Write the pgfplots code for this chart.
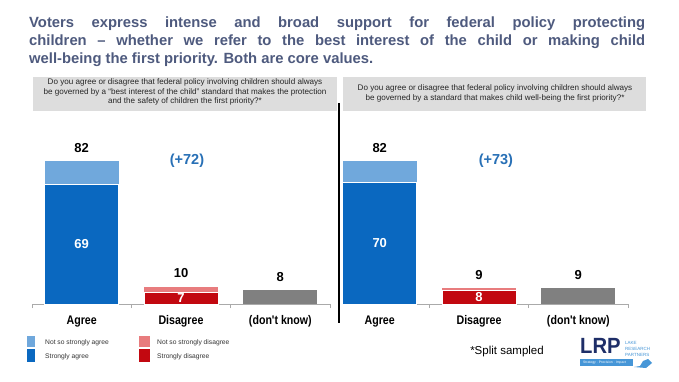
\documentclass[border=0pt]{standalone}
\usepackage{pgfplots}
\pgfplotsset{compat=1.18}
\usepackage{fontspec}
\setmainfont{Liberation Sans}
\newfontfamily\condfont{Liberation Sans}[FakeStretch=0.85]
\definecolor{titlecol}{RGB}{78,90,126}
\definecolor{boxgray}{RGB}{221,221,221}
\definecolor{lblue}{RGB}{112,168,220}
\definecolor{dblue}{RGB}{10,104,192}
\definecolor{lred}{RGB}{232,124,126}
\definecolor{dred}{RGB}{194,8,16}
\definecolor{dkgray}{RGB}{128,128,128}
\definecolor{plusblue}{RGB}{40,112,182}
\definecolor{axgray}{RGB}{170,170,170}
\definecolor{navy}{RGB}{30,46,104}
\definecolor{logoblue}{RGB}{70,150,215}
\pgfplotsset{
  panel/.style={
    anchor=south west, scale only axis, height=174pt,
    ymin=0, ymax=100, clip=false,
    axis x line*=bottom, hide y axis,
    x axis line style={-, draw=axgray, line width=0.6pt},
    xticklabels={}, tick align=outside, major tick length=4pt,
    tick style={draw=axgray, line width=0.6pt},
  },
  bbar/.style={ybar, bar width=74pt, bar shift=0pt, draw=none},
}
\newcommand{\tot}[1]{\bfseries\fontsize{13}{13}\selectfont #1}
\begin{document}
\begin{tikzpicture}[x=1pt,y=1pt]
\useasboundingbox (0,0) rectangle (679,381);
\fill[white] (0,0) rectangle (679,381);
% title
\begin{scope}[every node/.style={anchor=base west, inner sep=0, text=titlecol, font=\bfseries\fontsize{14.8}{18}\selectfont}]
\node at (29,353.7) {\makebox[616pt][s]{Voters express intense and broad support for federal policy protecting}};
\node at (29,335.7) {\makebox[616pt][s]{children -- whether we refer to the best interest of the child or making child}};
\node at (29,317.7) {well-being the first priority. Both are core values.};
\end{scope}
% question boxes
\fill[boxgray] (33,270) rectangle (337,304);
\fill[boxgray] (343,270) rectangle (646,304);
\begin{scope}[every node/.style={anchor=base, inner sep=0, text=black!85, font=\fontsize{8.1}{8.1}\selectfont}]
\node at (185,296.5) {Do you agree or disagree that federal policy involving children should always};
\node at (185,287) {be governed by a “best interest of the child” standard that makes the protection};
\node at (185,277.5) {and the safety of children the first priority?*};
\node at (495,290.5) {Do you agree or disagree that federal policy involving children should always};
\node at (495,281) {be governed by a standard that makes child well-being the first priority?*};
\end{scope}
% divider
\draw[line width=1.2pt] (339,278) -- (339,58);
% left panel
\begin{axis}[panel, at={(32pt,77pt)}, width=298pt, xmin=-0.5, xmax=2.5, xtick={-0.5,0.5,1.5,2.5}]
\addplot[bbar, fill=lblue] coordinates {(0,82)};
\addplot[bbar, fill=dblue, draw=white, line width=0.6pt] coordinates {(0,69)};
\addplot[bbar, fill=lred] coordinates {(1,10)};
\addplot[bbar, fill=dred, draw=white, line width=0.6pt] coordinates {(1,7)};
\addplot[bbar, fill=dkgray] coordinates {(2,8)};
\node[anchor=base, yshift=9pt, font=\tot{}] at (axis cs:0,82) {82};
\node[anchor=base, yshift=9pt, font=\tot{}] at (axis cs:1,10) {10};
\node[anchor=base, yshift=9pt, font=\tot{}] at (axis cs:2,8) {8};
\node[text=white, font=\tot{}] at (axis cs:0,34.5) {69};
\node[text=white, font=\tot{}] at (axis cs:1,3.5) {7};
\node[text=plusblue, font=\bfseries\fontsize{14.5}{14.5}\selectfont] at (axis cs:1.06,82.2) {(+72)};
\node[anchor=base, yshift=-20pt, font=\condfont\bfseries\fontsize{12.5}{12.5}\selectfont] at (axis cs:0,0) {Agree};
\node[anchor=base, yshift=-20pt, font=\condfont\bfseries\fontsize{12.5}{12.5}\selectfont] at (axis cs:1,0) {Disagree};
\node[anchor=base, yshift=-20pt, font=\condfont\bfseries\fontsize{12.5}{12.5}\selectfont] at (axis cs:2,0) {(don't know)};
\end{axis}
% right panel
\begin{axis}[panel, at={(343pt,77pt)}, width=285pt, xmin=-0.37, xmax=2.5, xtick={0.5,1.5,2.5}]
\addplot[bbar, fill=lblue] coordinates {(0,82)};
\addplot[bbar, fill=dblue, draw=white, line width=0.6pt] coordinates {(0,70)};
\addplot[bbar, fill=lred] coordinates {(1,9)};
\addplot[bbar, fill=dred, draw=white, line width=0.6pt] coordinates {(1,8)};
\addplot[bbar, fill=dkgray] coordinates {(2,9)};
\node[anchor=base, yshift=9pt, font=\tot{}] at (axis cs:0,82) {82};
\node[anchor=base, yshift=9pt, font=\tot{}] at (axis cs:1,9) {9};
\node[anchor=base, yshift=9pt, font=\tot{}] at (axis cs:2,9) {9};
\node[text=white, font=\tot{}] at (axis cs:0,35) {70};
\node[text=white, font=\tot{}] at (axis cs:1,4) {8};
\node[text=plusblue, font=\bfseries\fontsize{14.5}{14.5}\selectfont] at (axis cs:1.17,82.2) {(+73)};
\node[anchor=base, yshift=-20pt, font=\condfont\bfseries\fontsize{12.5}{12.5}\selectfont] at (axis cs:0,0) {Agree};
\node[anchor=base, yshift=-20pt, font=\condfont\bfseries\fontsize{12.5}{12.5}\selectfont] at (axis cs:1,0) {Disagree};
\node[anchor=base, yshift=-20pt, font=\condfont\bfseries\fontsize{12.5}{12.5}\selectfont] at (axis cs:2,0) {(don't know)};
\end{axis}
% legend
\fill[lblue] (27,34) rectangle (35,45);
\fill[dblue] (27,19) rectangle (35,32);
\fill[lred] (139,34) rectangle (150,45);
\fill[dred] (139,19) rectangle (150,32);
\begin{scope}[every node/.style={anchor=base west, inner sep=0, text=black!80, font=\fontsize{6.7}{6.7}\selectfont}]
\node at (45,37) {Not so strongly agree};
\node at (45,23) {Strongly agree};
\node at (157,37) {Not so strongly disagree};
\node at (157,23) {Strongly disagree};
\end{scope}
% footnote
\node[anchor=base, inner sep=0, font=\fontsize{11.5}{11.5}\selectfont] at (507,27) {*Split sampled};
% logo
\node[anchor=base west, inner sep=0, xscale=0.92, text=navy, font=\bfseries\fontsize{22}{22}\selectfont] at (580,28) {LRP};
\begin{scope}[every node/.style={anchor=base west, inner sep=0, text=logoblue, font=\fontsize{4.5}{4.5}\selectfont}]
\node at (625,37) {LAKE};
\node at (625,31) {RESEARCH};
\node at (625,25) {PARTNERS};
\end{scope}
\fill[logoblue] (580,15) rectangle (633,22);
\node[anchor=base west, inner sep=0, text=white, font=\fontsize{3.4}{3.4}\selectfont] at (583,17.3) {Strategy · Precision · Impact};
\fill[logoblue] (634,14) -- (640,15) -- (643,20) -- (648,22) -- (652,18) -- (646,13) -- cycle;
\end{tikzpicture}
\end{document}
